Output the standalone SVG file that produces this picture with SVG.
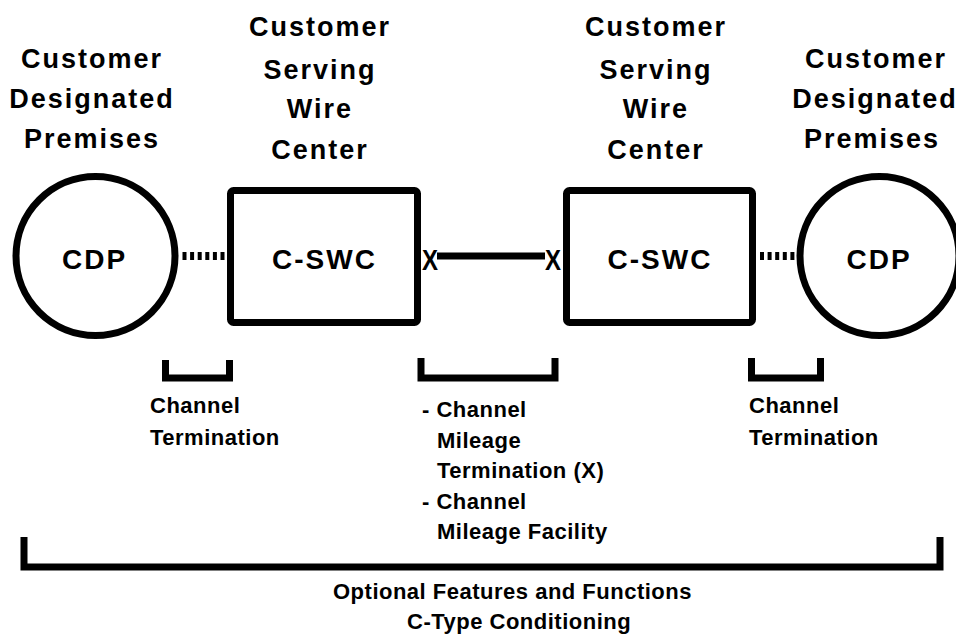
<svg xmlns="http://www.w3.org/2000/svg" width="956" height="636" viewBox="0 0 956 636">
<style>
  text { font-family: "Liberation Sans", Arial, sans-serif; font-weight: bold; fill: #000; }
  .hdr { font-size: 27px; letter-spacing: 2px; text-anchor: middle; }
  .node { font-size: 28px; letter-spacing: 2px; text-anchor: middle; }
  .lbl { font-size: 22px; letter-spacing: 0.5px; }
  .shape { fill: #fff; stroke: #000; stroke-width: 7; }
  .dots { stroke: #000; stroke-width: 8; stroke-dasharray: 4 3.6; fill: none; }
  .brk { fill: none; stroke: #000; stroke-width: 7; stroke-linejoin: miter; stroke-linecap: butt; }
</style>
<rect width="956" height="636" fill="#fff"/>

<g id="connectors">
  <line class="dots" x1="182.5" y1="256" x2="228" y2="256"/>
  <line class="dots" x1="760" y1="256" x2="798" y2="256"/>
  <line x1="437" y1="256" x2="545" y2="256" stroke="#000" stroke-width="7"/>
</g>

<g id="cdp-left">
  <circle class="shape" cx="95.5" cy="256" r="79.5" stroke-width="6.5"/>
  <text class="node" x="94.5" y="269">CDP</text>
  <text class="hdr" x="92" y="68">Customer</text>
  <text class="hdr" x="92" y="108">Designated</text>
  <text class="hdr" x="92" y="148">Premises</text>
</g>

<g id="cswc-left">
  <rect class="shape" x="230.5" y="190.5" width="187" height="132" rx="3"/>
  <text class="node" x="324.5" y="269">C-SWC</text>
  <text class="hdr" x="320" y="36">Customer</text>
  <text class="hdr" x="320" y="79">Serving</text>
  <text class="hdr" x="320" y="118">Wire</text>
  <text class="hdr" x="320" y="159">Center</text>
</g>

<g id="cswc-right">
  <rect class="shape" x="566.5" y="190.5" width="186" height="132" rx="3"/>
  <text class="node" x="660" y="269">C-SWC</text>
  <text class="hdr" x="656" y="36">Customer</text>
  <text class="hdr" x="656" y="79">Serving</text>
  <text class="hdr" x="656" y="118">Wire</text>
  <text class="hdr" x="656" y="159">Center</text>
</g>

<g id="cdp-right">
  <circle class="shape" cx="879.5" cy="256" r="79.5" stroke-width="6.5"/>
  <text class="node" x="879" y="269">CDP</text>
  <text class="hdr" x="876" y="68">Customer</text>
  <text class="hdr" x="875" y="108">Designated</text>
  <text class="hdr" x="872" y="148">Premises</text>
</g>

<g id="mileage-x">
  <text x="422" y="270" font-size="29" textLength="16" lengthAdjust="spacingAndGlyphs">X</text>
  <text x="545" y="270" font-size="29" textLength="16" lengthAdjust="spacingAndGlyphs">X</text>
</g>

<g id="bracket-left">
  <path class="brk" d="M165.5,360 V378 H229.5 V360"/>
  <text class="lbl" x="150" y="413">Channel</text>
  <text class="lbl" x="150" y="445">Termination</text>
</g>

<g id="bracket-middle">
  <path class="brk" d="M421,358 V378 H555 V358"/>
  <text class="lbl" x="422" y="417">- Channel</text>
  <text class="lbl" x="437" y="447.5">Mileage</text>
  <text class="lbl" x="437" y="478">Termination (X)</text>
  <text class="lbl" x="422" y="508.5">- Channel</text>
  <text class="lbl" x="437" y="538.5">Mileage Facility</text>
</g>

<g id="bracket-right">
  <path class="brk" d="M751.5,358 V378 H820.5 V358"/>
  <text class="lbl" x="749" y="413">Channel</text>
  <text class="lbl" x="749" y="445">Termination</text>
</g>

<g id="bracket-overall">
  <path class="brk" stroke-width="8" d="M24,537 V567 H940 V537"/>
  <text class="lbl" x="333" y="599">Optional Features and Functions</text>
  <text class="lbl" x="407" y="629">C-Type Conditioning</text>
</g>
</svg>
